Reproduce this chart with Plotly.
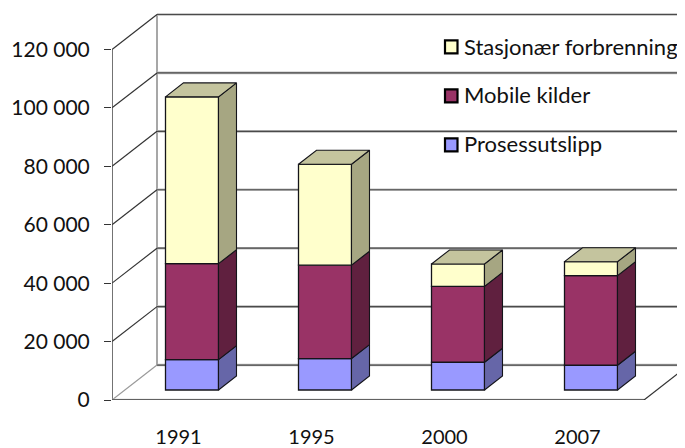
import plotly.graph_objects as go

categories = ["1991", "1995", "2000", "2007"]
prosess = [10400, 10770, 9500, 8480]
mobile = [32850, 31970, 25990, 30670]
stasjonaer = [57100, 34530, 7660, 4780]
tick_values = [0, 20000, 40000, 60000, 80000, 100000, 120000]
tick_labels = ["0", "20 000", "40 000", "60 000", "80 000", "100 000", "120 000"]

PAGE = 8                        # page offset of the figure
W, H = 685 - PAGE, 448 - PAGE
L, B = 112 - PAGE, 47.5
PX_X = 133.0
PX_Y = 58.5 / 20000
xr = [-0.5, -0.5 + (W - L) / PX_X]
yr = [0, (H - B) / PX_Y]
xpx = lambda p: p / PX_X
ypx = lambda p: p / PX_Y
paper_x = lambda page: (page - PAGE - L) / (W - L)
paper_y = lambda page: 1 - (page - PAGE) / (H - B)

DX, DY = xpx(45), ypx(35)       # wall depth
BDX, BDY = xpx(18), ypx(14)     # bar depth
OX, OY = xpx(13.5), ypx(10)     # bar front offset from floor front
BW = xpx(53)
FONT = "Lato"
EDGE = "#14141a"

series = [
    ("Prosessutslipp", prosess, "#9999FF", "#6666A8"),
    ("Mobile kilder", mobile, "#993366", "#60203F"),
    ("Stasjonær forbrenning", stasjonaer, "#FFFFCC", "#A6A682"),
]
TOP = "#C4C49E"
legend_rows = {"Stasjonær forbrenning": 47, "Mobile kilder": 96, "Prosessutslipp": 145}

shapes = []
def line(x0, y0, x1, y1, color, width):
    shapes.append(dict(type="line", xref="x", yref="y", x0=x0, y0=y0, x1=x1, y1=y1,
                       layer="below", line=dict(color=color, width=width)))

# walls
x_left = xr[0]
line(x_left + DX, 0 + DY, x_left + DX, tick_values[-1] + DY, "#8a8a8a", 1.5)
for i, t in enumerate(tick_values):
    line(x_left + DX, t + DY, xr[1] + 1, t + DY, "#bdbdbd", 2.6)
    line(x_left + DX, t + DY, xr[1] + 1, t + DY, "#4a4a4a", 1.2)
    line(x_left, t, x_left + DX, t + DY, "#9a9a9a" if t == 0 else "#333333", 1.2)
line(x_left, 0, x_left, tick_values[-1], "#444444", 1.5)
floor_end = x_left + len(categories)
line(x_left, 0, floor_end, 0, "#c4c4c4", 2.6)
line(x_left, 0, floor_end, 0, "#404040", 1.4)
line(floor_end, 0, floor_end + DX, DY, "#333333", 1.2)

fig = go.Figure()
xs = list(range(len(categories)))

# fronts
base = [OY] * len(categories)
for name, vals, col, side in series:
    fig.add_trace(go.Bar(
        x=[x + OX for x in xs], y=vals, base=list(base), width=BW, name=name, showlegend=False,
        marker=dict(color=col, line=dict(color=EDGE, width=1.3))))
    sx, sy = [], []
    for j, x in enumerate(xs):
        xa = x + OX + BW / 2
        b, t = base[j], base[j] + vals[j]
        sx += [xa, xa + BDX, xa + BDX, xa, xa, None]
        sy += [b, b + BDY, t + BDY, t, b, None]
    fig.add_trace(go.Scatter(x=sx, y=sy, mode="lines", fill="toself", fillcolor=side,
                             line=dict(color=EDGE, width=1.1), showlegend=False, hoverinfo="skip"))
    base = [b + v for b, v in zip(base, vals)]

# bar tops
tx, ty = [], []
for j, x in enumerate(xs):
    xa, xb = x + OX - BW / 2, x + OX + BW / 2
    t = base[j]
    tx += [xa, xa + BDX, xb + BDX, xb, xa, None]
    ty += [t, t + BDY, t + BDY, t, t, None]
fig.add_trace(go.Scatter(x=tx, y=ty, mode="lines", fill="toself", fillcolor=TOP,
                         line=dict(color=EDGE, width=1.1), showlegend=False, hoverinfo="skip"))

# legend entries: text from the legend, swatches drawn just left of it
for name, vals, col, side in reversed(series):
    fig.add_trace(go.Scatter(x=[None], y=[None], mode="markers", name=name, legendgroup=name,
                             marker=dict(symbol="square", size=6, color="rgba(0,0,0,0)",
                                         line=dict(color="rgba(0,0,0,0)", width=0))))
    c = legend_rows[name]
    shapes.append(dict(type="rect", xref="paper", yref="paper",
                       x0=paper_x(445), x1=paper_x(457.5), y0=paper_y(c + 6.5), y1=paper_y(c - 6.5),
                       fillcolor=col, line=dict(color="#000000", width=2.2), layer="above"))

fig.update_layout(
    width=W, height=H, autosize=False,
    margin=dict(l=L, r=0, t=0, b=B, pad=0),
    paper_bgcolor="white", plot_bgcolor="white",
    barmode="overlay", shapes=shapes,
    font=dict(family=FONT, size=21, color="#111111"),
    legend=dict(x=paper_x(424), y=paper_y(25.5), xanchor="left", yanchor="top",
                bgcolor="rgba(0,0,0,0)", tracegroupgap=17, font=dict(family=FONT, size=22),
                itemsizing="constant"),
    xaxis=dict(range=xr, tickvals=xs, ticktext=categories, ticks="", showgrid=False, zeroline=False,
               showline=False, automargin=False, ticklabelstandoff=23,
               tickfont=dict(family=FONT, size=20, color="#111111")),
    yaxis=dict(range=yr, tickvals=tick_values, ticktext=tick_labels, ticks="outside", ticklen=7,
               tickcolor="#333333", tickwidth=1.3, showgrid=False, zeroline=False, showline=False,
               automargin=False, ticklabelstandoff=10,
               tickfont=dict(family=FONT, size=21, color="#111111")),
)
fig.write_html("out.html")
